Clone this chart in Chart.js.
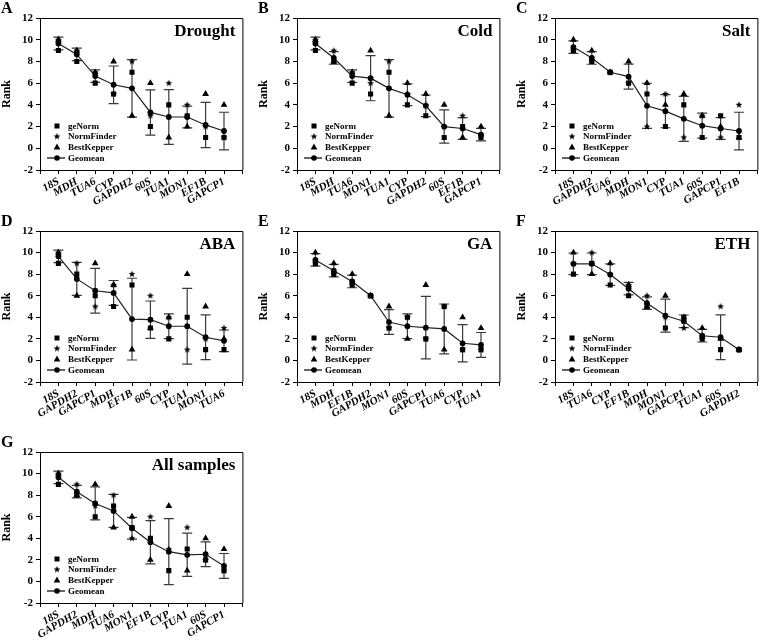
<!DOCTYPE html>
<html>
<head>
<meta charset="utf-8">
<script src="https://cdn.jsdelivr.net/npm/chart.js@4.4.1/dist/chart.umd.min.js"></script>
<style>
  html, body { margin: 0; padding: 0; background: #fff; }
  #wrap { position: relative; width: 762px; height: 643px; overflow: hidden; background: #fff; }
  #wrap canvas { position: absolute; }
</style>
</head>
<body>
<div id="wrap"></div>
<script>
// ---- data: ranks of each method, geomean and its SD ----
const droughtGenes = ['18S', 'MDH', 'TUA6', 'CYP', 'GAPDH2', '60S', 'TUA1', 'MON1', 'EF1B', 'GAPCP1'];
const droughtGeNorm = [9, 8, 6, 5, 7, 2, 4, 3, 1, 1];
const droughtNormFinder = [10, 9, 7, 5, 8, 3, 6, 4, 2, 1];
const droughtBestKepper = [10, 9, 7, 8, 3, 6, 1, 2, 5, 4];
const droughtGeomean = [9.65, 8.65, 6.65, 5.85, 5.52, 3.30, 2.88, 2.88, 2.15, 1.59];
const droughtSD = [0.58, 0.58, 0.58, 1.73, 2.65, 2.08, 2.52, 1.00, 2.08, 1.73];

const coldGenes = ['18S', 'MDH', 'TUA6', 'MON1', 'TUA1', 'CYP', 'GAPDH2', '60S', 'EF1B', 'GAPCP1'];
const coldGeNorm = [9, 8, 6, 5, 7, 4, 3, 1, 2, 1];
const coldNormFinder = [10, 9, 7, 6, 8, 5, 4, 2, 3, 1];
const coldBestKepper = [10, 8, 7, 9, 3, 6, 5, 4, 1, 2];
const coldGeomean = [9.65, 8.32, 6.65, 6.46, 5.52, 4.93, 3.91, 2.00, 1.82, 1.26];
const coldSD = [0.58, 0.58, 0.58, 2.08, 2.65, 1.00, 1.00, 1.53, 1.00, 0.58];

const saltGenes = ['18S', 'GAPDH2', 'TUA6', 'MDH', 'MON1', 'CYP', 'TUA1', '60S', 'GAPCP1', 'EF1B'];
const saltGeNorm = [9, 8, 7, 6, 5, 2, 4, 1, 3, 1];
const saltNormFinder = [9, 8, 7, 6, 2, 5, 1, 3, 1, 4];
const saltBestKepper = [10, 9, 7, 8, 6, 4, 5, 3, 2, 1];
const saltGeomean = [9.32, 8.32, 7.00, 6.60, 3.91, 3.42, 2.71, 2.08, 1.82, 1.59];
const saltSD = [0.58, 0.58, 0, 1.15, 2.08, 1.53, 2.08, 1.15, 1.00, 1.73];

const abaGenes = ['18S', 'GAPDH2', 'GAPCP1', 'MDH', 'EF1B', '60S', 'CYP', 'TUA1', 'MON1', 'TUA6'];
const abaGeNorm = [9, 8, 6, 5, 7, 3, 2, 4, 1, 1];
const abaNormFinder = [10, 9, 5, 7, 8, 6, 4, 1, 2, 3];
const abaBestKepper = [10, 6, 9, 7, 1, 3, 4, 8, 5, 2];
const abaGeomean = [9.65, 7.56, 6.46, 6.26, 3.83, 3.78, 3.17, 3.17, 2.15, 1.82];
const abaSD = [0.58, 1.53, 2.08, 1.15, 3.79, 1.73, 1.15, 3.51, 2.08, 1.00];

const gaGenes = ['18S', 'MDH', 'EF1B', 'GAPDH2', 'MON1', '60S', 'GAPCP1', 'TUA6', 'CYP', 'TUA1'];
const gaGeNorm = [9, 8, 7, 6, 3, 4, 2, 5, 1, 1];
const gaNormFinder = [9, 8, 7, 6, 3, 4, 2, 5, 1, 1];
const gaBestKepper = [10, 9, 8, 6, 5, 2, 7, 1, 4, 3];
const gaGeomean = [9.32, 8.32, 7.32, 6.00, 3.56, 3.17, 3.04, 2.92, 1.59, 1.44];
const gaSD = [0.58, 0.58, 0.58, 0, 1.15, 1.15, 2.89, 2.31, 1.73, 1.15];

const ethGenes = ['18S', 'TUA6', 'CYP', 'EF1B', 'MDH', 'MON1', 'GAPCP1', 'TUA1', '60S', 'GAPDH2'];
const ethGeNorm = [8, 9, 7, 6, 5, 3, 4, 2, 1, 1];
const ethNormFinder = [9, 10, 8, 7, 6, 4, 3, 2, 5, 1];
const ethBestKepper = [10, 8, 9, 7, 5, 6, 4, 3, 2, 1];
const ethGeomean = [8.96, 8.96, 7.96, 6.65, 5.31, 4.16, 3.63, 2.29, 2.15, 1.00];
const ethSD = [1.00, 1.00, 1.00, 0.58, 0.58, 1.53, 0.58, 0.58, 2.08, 0];

const allGenes = ['18S', 'GAPDH2', 'MDH', 'TUA6', 'MON1', 'EF1B', 'CYP', 'TUA1', '60S', 'GAPCP1'];
const allGeNorm = [9, 8, 6, 7, 5, 4, 1, 3, 2, 1];
const allNormFinder = [10, 9, 7, 8, 4, 6, 3, 5, 2, 1];
const allBestKepper = [10, 8, 9, 5, 6, 2, 7, 1, 4, 3];
const allGeomean = [9.65, 8.32, 7.23, 6.54, 4.93, 3.63, 2.76, 2.47, 2.52, 1.44];
const allSD = [0.58, 0.58, 1.53, 1.53, 1.00, 2.00, 3.06, 2.00, 1.15, 1.15];

const yTicks = [-2, 0, 2, 4, 6, 8, 10, 12];

// panel list: letter, title, data, and where the plot box sits on the page
const panels = [
  { letter: 'A', title: 'Drought', genes: droughtGenes, g: droughtGeNorm, n: droughtNormFinder, b: droughtBestKepper, m: droughtGeomean, sd: droughtSD, L: 40, T: 18, B: 170 },
  { letter: 'B', title: 'Cold', genes: coldGenes, g: coldGeNorm, n: coldNormFinder, b: coldBestKepper, m: coldGeomean, sd: coldSD, L: 297, T: 18, B: 170 },
  { letter: 'C', title: 'Salt', genes: saltGenes, g: saltGeNorm, n: saltNormFinder, b: saltBestKepper, m: saltGeomean, sd: saltSD, L: 555, T: 18, B: 170 },
  { letter: 'D', title: 'ABA', genes: abaGenes, g: abaGeNorm, n: abaNormFinder, b: abaBestKepper, m: abaGeomean, sd: abaSD, L: 40, T: 231, B: 382 },
  { letter: 'E', title: 'GA', genes: gaGenes, g: gaGeNorm, n: gaNormFinder, b: gaBestKepper, m: gaGeomean, sd: gaSD, L: 297, T: 231, B: 382 },
  { letter: 'F', title: 'ETH', genes: ethGenes, g: ethGeNorm, n: ethNormFinder, b: ethBestKepper, m: ethGeomean, sd: ethSD, L: 555, T: 231, B: 382 },
  { letter: 'G', title: 'All samples', genes: allGenes, g: allGeNorm, n: allNormFinder, b: allBestKepper, m: allGeomean, sd: allSD, L: 40, T: 452, B: 603 }
];

const FONT = "'Liberation Serif', 'Times New Roman', serif";
const PLOT_W = 204;
Chart.defaults.font.family = FONT;
Chart.defaults.color = '#000';

// small filled star used as the NormFinder marker
function makeStar(r) {
  const c = document.createElement('canvas');
  const s = Math.ceil(r * 2) + 2;
  c.width = c.height = s;
  const g = c.getContext('2d');
  g.fillStyle = '#000';
  g.beginPath();
  for (let k = 0; k < 10; k++) {
    const rad = k % 2 ? r * 0.42 : r;
    const a = -Math.PI / 2 + k * Math.PI / 5;
    g.lineTo(s / 2 + rad * Math.cos(a), s / 2 + rad * Math.sin(a));
  }
  g.closePath();
  g.fill();
  return c;
}
const star = makeStar(3.6);

// error bars (geomean +- SD)
const errorBars = {
  id: 'errorBars',
  beforeDatasetsDraw(chart, args, opts) {
    const { ctx, scales: { x, y } } = chart;
    ctx.save();
    ctx.strokeStyle = '#3a3a3a';
    ctx.lineWidth = 1.2;
    opts.mean.forEach((m, i) => {
      if (!opts.sd[i]) return;
      const px = x.getPixelForValue(i + 1);
      const top = y.getPixelForValue(m + opts.sd[i]);
      const bot = y.getPixelForValue(m - opts.sd[i]);
      ctx.beginPath();
      ctx.moveTo(px, top); ctx.lineTo(px, bot);
      ctx.moveTo(px - 5, top); ctx.lineTo(px + 5, top);
      ctx.moveTo(px - 5, bot); ctx.lineTo(px + 5, bot);
      ctx.stroke();
    });
    ctx.restore();
  }
};

// box, panel letter, title, legend
const decor = {
  id: 'decor',
  afterDraw(chart, args, opts) {
    const { ctx, chartArea: a } = chart;
    ctx.save();
    ctx.strokeStyle = '#000';
    ctx.lineWidth = 1;
    ctx.beginPath();
    ctx.moveTo(a.left, a.top + 0.5); ctx.lineTo(a.right + 0.5, a.top + 0.5); ctx.lineTo(a.right + 0.5, a.bottom);
    ctx.stroke();

    ctx.fillStyle = '#000';
    ctx.font = 'bold 16px ' + FONT;
    ctx.textBaseline = 'top';
    ctx.textAlign = 'left';
    ctx.fillText(opts.letter, 1, 1);

    ctx.font = 'bold 17px ' + FONT;
    ctx.textAlign = 'right';
    ctx.textBaseline = 'alphabetic';
    ctx.fillText(opts.title, a.right - 7, a.top + 18);

    // legend
    const mx = a.left + 17;
    const rows = [a.bottom - 44, a.bottom - 33.5, a.bottom - 23, a.bottom - 12];
    ctx.fillRect(mx - 2.5, rows[0] - 2.5, 5, 5);
    ctx.drawImage(star, mx - star.width / 2, rows[1] - star.height / 2);
    ctx.beginPath();
    ctx.moveTo(mx, rows[2] - 3.5); ctx.lineTo(mx + 3.3, rows[2] + 2.5); ctx.lineTo(mx - 3.3, rows[2] + 2.5);
    ctx.closePath(); ctx.fill();
    ctx.beginPath();
    ctx.lineWidth = 1.2;
    ctx.moveTo(mx - 10, rows[3]); ctx.lineTo(mx + 8, rows[3]);
    ctx.stroke();
    ctx.beginPath();
    ctx.arc(mx, rows[3], 2.8, 0, Math.PI * 2);
    ctx.fill();

    ctx.font = 'bold 9px ' + FONT;
    ctx.textAlign = 'left';
    ctx.textBaseline = 'middle';
    ['geNorm', 'NormFinder', 'BestKepper', 'Geomean'].forEach((t, i) => ctx.fillText(t, a.left + 28, rows[i] + 0.5));
    ctx.restore();
  }
};

const wrap = document.getElementById('wrap');

panels.forEach(p => {
  const cv = document.createElement('canvas');
  const w = 40 + PLOT_W + 6;
  const h = (p.B - p.T) + 18 + 48;
  cv.width = w; cv.height = h;
  cv.style.left = (p.L - 40) + 'px';
  cv.style.top = (p.T - 18) + 'px';
  cv.style.width = w + 'px'; cv.style.height = h + 'px';
  wrap.appendChild(cv);

  const pts = arr => arr.map((v, i) => ({ x: i + 1, y: v }));

  new Chart(cv.getContext('2d'), {
    type: 'scatter',
    data: {
      datasets: [
        { label: 'geNorm', data: pts(p.g), pointStyle: 'rect', pointRadius: 3.6, backgroundColor: '#000', borderColor: '#000', borderWidth: 0 },
        { label: 'NormFinder', data: pts(p.n), pointStyle: star, pointRadius: 4 },
        { label: 'BestKepper', data: pts(p.b), pointStyle: 'triangle', pointRadius: 3.9, backgroundColor: '#000', borderColor: '#000', borderWidth: 0 },
        { label: 'Geomean', data: pts(p.m), showLine: true, borderColor: '#222', borderWidth: 1.2,
          pointStyle: 'circle', pointRadius: 2.9, backgroundColor: '#000', pointBorderWidth: 0 }
      ]
    },
    options: {
      responsive: false,
      animation: false,
      devicePixelRatio: 1,
      layout: { padding: { left: 0, top: 18, right: 6, bottom: 0 } },
      plugins: {
        legend: { display: false },
        tooltip: { enabled: false },
        errorBars: { mean: p.m, sd: p.sd },
        decor: { letter: p.letter, title: p.title }
      },
      scales: {
        x: {
          type: 'linear', min: 0, max: 11,
          afterFit: s => { s.height = 48; },
          afterBuildTicks: s => { s.ticks = Array.from({ length: 12 }, (_, i) => ({ value: i })); },
          ticks: {
            autoSkip: false, minRotation: 30, maxRotation: 30, padding: 1,
            font: { family: FONT, size: 11, weight: 'bold', style: 'italic' },
            callback: v => (v >= 1 && v <= 10) ? p.genes[v - 1] : ''
          },
          grid: { display: true, drawOnChartArea: false, tickLength: 4, color: '#000' },
          border: { color: '#000', width: 1 }
        },
        y: {
          min: -2, max: 12,
          afterFit: s => { s.width = 40; },
          afterBuildTicks: s => { s.ticks = yTicks.map(v => ({ value: v })); },
          ticks: { font: { family: FONT, size: 11, weight: 'bold' }, padding: 3 },
          grid: { display: true, drawOnChartArea: false, tickLength: 4, color: '#000' },
          border: { color: '#000', width: 1 },
          title: { display: true, text: 'Rank', font: { family: FONT, size: 12, weight: 'bold' }, padding: 0 }
        }
      }
    },
    plugins: [errorBars, decor]
  });
});
</script>
</body>
</html>
